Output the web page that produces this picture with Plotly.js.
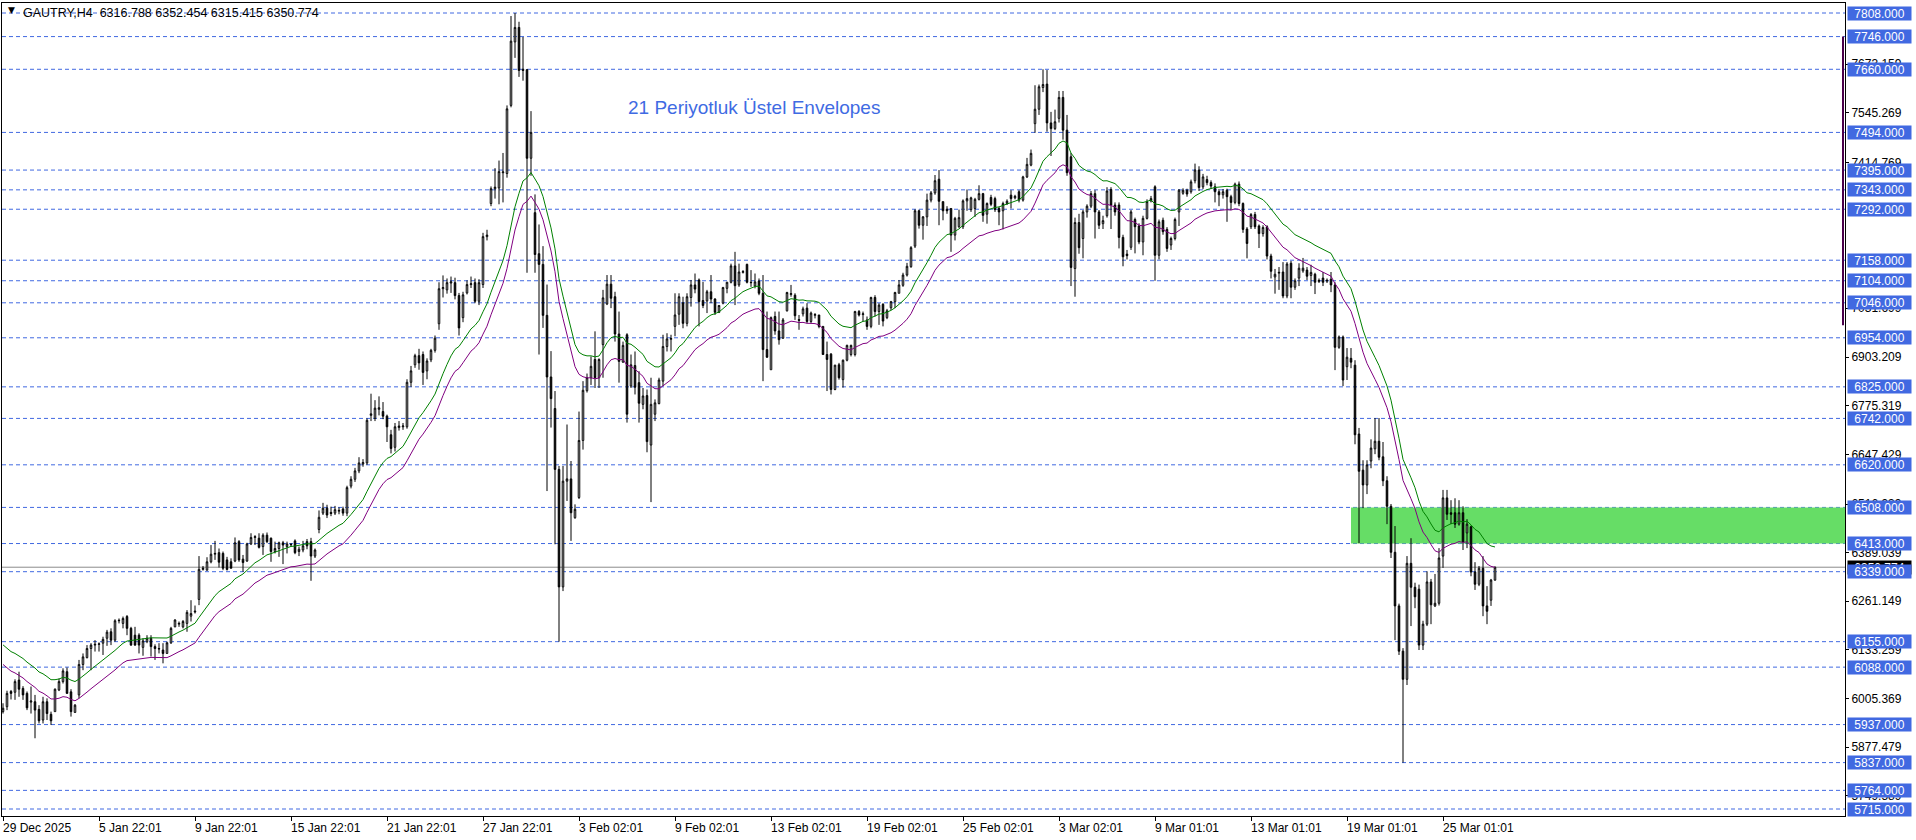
<!DOCTYPE html>
<html><head><meta charset="utf-8">
<script src="https://cdn.plot.ly/plotly-3.0.1.min.js"></script>
<style>html,body{margin:0;padding:0;background:#fff;}#chart{width:1916px;height:840px;}</style>
</head><body><div id="chart"></div>
<script>
const symbolName = 'GAUTRY,H4';
const openP = [
5971,5984,6024,6022,6054,6032,6019,5996,5997,5977,
5949,5997,5964,5971,6028,6050,6076,6023,5969,6015,
6095,6113,6137,6146,6148,6151,6164,6181,6159,6210,
6203,6221,6190,6172,6172,6140,6155,6164,6142,6137,
6133,6124,6152,6194,6201,6194,6203,6222,6233,6266,
6345,6343,6365,6385,6389,6387,6370,6365,6367,6418,
6372,6367,6412,6429,6427,6405,6435,6427,6392,6400,
6415,6405,6411,6420,6392,6396,6418,6418,6380,6450,
6493,6506,6495,6493,6498,6504,6493,6564,6582,6604,
6622,6625,6750,6742,6766,6760,6748,6699,6666,6718,
6720,6720,6837,6883,6907,6910,6867,6896,6921,6991,
7083,7080,7098,7099,7065,7007,7072,7094,7099,7050,
7094,7220,7307,7346,7348,7388,7386,7565,7732,7770,
7660,7659,7426,7283,7175,7147,7013,6851,6768,6608,
6299,6577,6583,6481,6534,6684,6815,6849,6897,6849,
6936,7043,7095,7062,6964,6890,6962,6827,6881,6836,
6779,6802,6672,6753,6781,6840,6931,6950,6984,7016,
7046,6992,7060,7093,7106,7052,7051,7075,7056,7021,
7045,7084,7100,7143,7093,7126,7147,7100,7090,7103,
7071,6923,6870,7010,6972,6953,7025,7068,7066,7002,
7017,7032,6997,7013,7014,6984,6910,6911,6818,6883,
6844,6895,6910,6910,7023,7015,7001,6984,7060,7023,
7042,7007,7033,7049,7071,7092,7119,7141,7195,7288,
7250,7272,7316,7335,7371,7312,7292,7294,7224,7246,
7246,7314,7291,7294,7318,7333,7279,7323,7320,7294,
7288,7307,7329,7322,7338,7316,7377,7408,7517,7555,
7612,7621,7519,7504,7531,7586,7500,7430,7136,7257,
7215,7285,7300,7333,7285,7254,7275,7344,7303,7303,
7218,7174,7192,7265,7248,7206,7268,7314,7351,7171,
7263,7239,7198,7215,7285,7334,7342,7338,7367,7395,
7351,7370,7362,7351,7338,7330,7342,7325,7310,7358,
7307,7240,7246,7278,7248,7228,7246,7169,7114,7124,
7127,7064,7150,7087,7111,7130,7132,7118,7121,7102,
7111,7103,7108,7093,6929,6956,6878,6900,6882,6701,
6606,6567,6630,6662,6682,6641,6578,6511,6390,6249,
6130,6056,6361,6298,6293,6146,6201,6312,6249,6256,
6380,6533,6494,6494,6464,6494,6441,6457,6338,6306,
6348,6249,6264,6316.788];
const highP = [
5993,6026,6028,6056,6076,6038,6024,6037,6015,5988,
6010,6006,5971,6032,6058,6085,6087,6030,5991,6107,
6124,6146,6151,6159,6153,6168,6186,6190,6214,6216,
6221,6225,6194,6194,6177,6164,6172,6172,6148,6151,
6151,6155,6194,6214,6208,6212,6238,6264,6250,6380,
6354,6377,6409,6420,6400,6392,6378,6374,6429,6422,
6383,6415,6440,6435,6440,6440,6442,6429,6418,6418,
6420,6418,6414,6424,6405,6420,6425,6428,6400,6500,
6520,6515,6510,6512,6508,6510,6565,6590,6612,6640,
6635,6742,6807,6790,6800,6785,6752,6712,6730,6735,
6730,6845,6880,6912,6925,6918,6900,6925,6960,7100,
7118,7110,7115,7112,7072,7075,7105,7115,7110,7108,
7230,7238,7352,7400,7420,7440,7565,7800,7808,7785,
7745,7660,7550,7331,7252,7195,7094,6919,6814,6617,
6617,6726,6630,6516,6760,6840,6860,6905,6971,6900,
7080,7119,7119,7075,7023,6944,6966,6910,6918,6866,
6822,6818,6849,6792,6849,6962,6966,6962,7071,7071,
7062,7071,7106,7123,7110,7101,7080,7119,7058,7040,
7088,7101,7149,7180,7149,7132,7149,7132,7123,7110,
7119,7023,7010,7023,7023,7006,7075,7093,7071,7014,
7036,7045,7023,7019,7014,6984,6944,6914,6883,6888,
6897,6936,6936,7025,7027,7023,7010,7062,7066,7045,
7045,7030,7051,7075,7106,7125,7151,7195,7292,7291,
7274,7333,7340,7382,7395,7312,7300,7294,7272,7291,
7318,7344,7325,7322,7355,7335,7310,7330,7325,7298,
7312,7318,7342,7330,7342,7380,7427,7449,7618,7620,
7660,7658,7548,7554,7603,7603,7540,7440,7270,7280,
7290,7305,7340,7342,7290,7275,7350,7350,7310,7310,
7225,7185,7290,7270,7255,7275,7318,7327,7355,7265,
7270,7245,7220,7270,7345,7347,7346,7370,7412,7405,
7385,7380,7368,7360,7345,7345,7346,7330,7362,7365,
7310,7245,7282,7285,7252,7250,7250,7175,7135,7140,
7153,7153,7156,7110,7150,7164,7140,7146,7125,7110,
7127,7110,7127,7100,6960,6960,6927,6927,6895,6717,
6632,6632,6687,6743,6743,6680,6590,6517,6459,6255,
6138,6380,6427,6310,6305,6210,6340,6320,6333,6401,
6554,6554,6527,6532,6527,6511,6477,6460,6364,6354,
6380,6301,6320,6352.454];
const lowP = [
5966,5975,6003,6002,6010,6002,5975,5966,5901,5940,
5940,5949,5936,5971,6025,6045,6019,5958,5968,6006,
6080,6111,6080,6129,6129,6120,6144,6146,6155,6203,
6190,6172,6144,6144,6124,6118,6151,6116,6107,6124,
6098,6124,6149,6193,6194,6190,6181,6208,6229,6251,
6342,6342,6361,6370,6350,6343,6342,6348,6364,6365,
6339,6365,6409,6409,6400,6383,6414,6365,6387,6378,
6359,6387,6405,6385,6380,6390,6398,6315,6375,6440,
6488,6480,6485,6488,6490,6486,6485,6558,6575,6598,
6615,6620,6735,6735,6750,6740,6680,6650,6655,6710,
6712,6715,6825,6875,6870,6830,6845,6890,6915,6975,
7060,7070,7072,7055,6960,6995,7068,7085,7045,7040,
7085,7210,7300,7320,7305,7310,7375,7560,7690,7640,
7630,7125,7380,7125,6910,6980,6551,6718,6411,6155,
6288,6525,6420,6478,6530,6660,6810,6830,6822,6822,
6849,7040,7032,6944,6836,6888,6731,6822,6805,6731,
6766,6653,6522,6735,6779,6827,6918,6918,6958,6988,
6979,6984,7036,7071,6984,7032,7019,7045,7014,7019,
7042,7071,7097,7040,7088,7123,7097,7088,7084,7066,
6840,6901,6870,6962,6936,6951,7023,7062,7001,6975,
7010,6992,6992,7005,6979,6910,6814,6805,6816,6844,
6823,6892,6905,6905,7010,6997,6975,6979,7010,6988,
6984,7003,7027,7032,7071,7088,7115,7138,7190,7241,
7212,7248,7310,7330,7250,7263,7280,7180,7210,7243,
7240,7288,7285,7272,7315,7259,7254,7300,7285,7250,
7239,7303,7294,7318,7310,7312,7374,7405,7493,7540,
7600,7496,7432,7500,7520,7475,7380,7090,7062,7175,
7163,7270,7295,7215,7240,7240,7270,7240,7275,7189,
7142,7160,7185,7176,7200,7171,7265,7310,7104,7160,
7225,7180,7185,7210,7248,7330,7325,7333,7360,7340,
7345,7355,7345,7310,7300,7320,7259,7290,7305,7300,
7230,7163,7240,7240,7190,7220,7160,7110,7070,7080,
7058,7058,7058,7080,7090,7125,7106,7090,7069,7098,
7090,7098,7074,6869,6925,6827,6843,6874,6674,6414,
6506,6543,6611,6648,6632,6564,6464,6375,6159,6120,
5837,6041,6196,6243,6133,6133,6196,6201,6246,6250,
6349,6475,6464,6454,6460,6396,6401,6327,6291,6301,
6222,6201,6249,6315.415];
const closeP = [
5980,6019,6019,6050,6030,6015,5981,5999,5975,5947,
5997,5966,5947,6030,6050,6078,6019,5971,5988,6095,
6115,6137,6146,6148,6149,6161,6180,6159,6210,6211,
6216,6190,6146,6146,6146,6157,6164,6142,6137,6136,
6124,6152,6190,6212,6203,6208,6232,6229,6235,6345,
6348,6365,6385,6387,6364,6348,6345,6348,6415,6370,
6363,6412,6429,6431,6403,6435,6418,6392,6400,6415,
6409,6412,6410,6389,6398,6407,6407,6380,6396,6482,
6506,6488,6492,6502,6500,6493,6560,6582,6604,6625,
6626,6737,6754,6769,6770,6748,6720,6663,6720,6722,
6722,6837,6867,6907,6888,6863,6893,6921,6953,7083,
7086,7099,7101,7065,6980,7067,7094,7096,7050,7099,
7220,7224,7346,7350,7391,7390,7556,7734,7770,7657,
7657,7426,7494,7173,7147,7013,6851,6794,6608,6299,
6577,6583,6494,6503,6684,6816,6849,6879,6849,6897,
7059,7095,7058,6964,6892,6934,6753,6883,6824,6782,
6801,6681,6779,6783,6843,6931,6951,6952,7014,7062,
6992,7062,7093,7082,7049,7039,7075,7056,7021,7039,
7086,7100,7143,7091,7127,7128,7100,7099,7101,7071,
6923,6903,7007,6972,6949,7001,7073,7070,7012,7000,
7030,6997,7019,7015,6984,6910,6897,6818,6882,6849,
6895,6934,6934,7023,7014,7017,6984,7060,7023,7040,
6998,7025,7049,7073,7093,7119,7142,7191,7288,7250,
7272,7316,7335,7367,7313,7288,7288,7224,7268,7270,
7314,7320,7322,7318,7333,7276,7307,7305,7291,7285,
7307,7313,7320,7326,7316,7377,7410,7439,7555,7614,
7620,7519,7504,7522,7586,7500,7388,7139,7257,7191,
7285,7300,7333,7285,7250,7262,7340,7303,7285,7218,
7167,7170,7285,7246,7206,7268,7312,7320,7171,7259,
7233,7189,7215,7265,7342,7342,7332,7364,7395,7349,
7377,7362,7353,7338,7330,7338,7325,7310,7358,7307,
7239,7202,7278,7246,7228,7244,7169,7129,7121,7126,
7064,7148,7087,7104,7137,7137,7116,7126,7100,7105,
7100,7105,7093,6929,6956,6843,6903,6890,6699,6603,
6567,6620,6664,6682,6640,6578,6511,6390,6249,6130,
6056,6361,6298,6273,6146,6201,6312,6252,6256,6375,
6533,6490,6490,6464,6494,6417,6464,6338,6306,6348,
6249,6235,6317,6350.774];

const dateLabels = ['29 Dec 2025','5 Jan 22:01','9 Jan 22:01','15 Jan 22:01','21 Jan 22:01','27 Jan 22:01','3 Feb 02:01','9 Feb 02:01','13 Feb 02:01','19 Feb 02:01','25 Feb 02:01','3 Mar 02:01','9 Mar 01:01','13 Mar 01:01','19 Mar 01:01','25 Mar 01:01'];
const dateLabelBars = [0,24,48,72,96,120,144,168,192,216,240,264,288,312,336,360];
const levelLines = [7808,7746,7660,7494,7395,7343,7292,7158,7104,7046,6954,6825,6742,6620,6508,6413,6339,6155,6088,5937,5837,5764,5715];
const priceTicks = [7673.159,7545.269,7414.769,7031.699,6903.209,6775.319,6647.429,6516.939,6389.039,6261.149,6133.259,6005.369,5877.479,5749.589];
const bidPrice = 6350.774;
const zoneLow = 6413, zoneHigh = 6508, zoneStartBar = 337;
const emaPeriod = 21, envDeviationPct = 0.42, emaSeed = 6135;
const noteText = '21 Periyotluk Üstel Envelopes';
const markerTop = 7746, markerBottom = 6987;

const bars = closeP.map((_, i) => i);
const alpha = 2 / (emaPeriod + 1);
let ema = emaSeed;
const envUpper = [], envLower = [];
closeP.forEach(c => {
  ema = ema + alpha * (c - ema);
  envUpper.push(ema * (1 + envDeviationPct / 100));
  envLower.push(ema * (1 - envDeviationPct / 100));
});

const FONT = 'Liberation Sans, Arial, sans-serif';
const XMAX = 460.5;

const traces = [
  {type:'candlestick', x:bars, open:openP, high:highP, low:lowP, close:closeP,
   increasing:{line:{color:'#000000', width:1}, fillcolor:'#ffffff'},
   decreasing:{line:{color:'#000000', width:1}, fillcolor:'#000000'},
   whiskerwidth:0, hoverinfo:'skip', showlegend:false},
  {type:'scatter', mode:'lines', x:bars, y:envUpper, line:{color:'#008000', width:1}, hoverinfo:'skip', showlegend:false},
  {type:'scatter', mode:'lines', x:bars, y:envLower, line:{color:'#800080', width:1}, hoverinfo:'skip', showlegend:false}
];

const shapes = [];
shapes.push({type:'rect', xref:'x', yref:'y', x0:zoneStartBar, x1:XMAX, y0:zoneLow, y1:zoneHigh,
  fillcolor:'#66dd66', line:{width:0}, layer:'below'});
levelLines.forEach(v => shapes.push({type:'line', xref:'paper', yref:'y', x0:0, x1:1, y0:v, y1:v,
  line:{color:'#4169e1', width:1, dash:'4px,3px'}, layer:'below'}));
shapes.push({type:'line', xref:'paper', yref:'y', x0:0, x1:1, y0:bidPrice, y1:bidPrice,
  line:{color:'#8c8c8c', width:1}, layer:'below'});
shapes.push({type:'line', xref:'x', yref:'y', x0:460.0, x1:460.0, y0:markerTop, y1:markerBottom,
  line:{color:'#4a004a', width:2}, layer:'above'});

const annotations = [];
const last = closeP.length - 1;
annotations.push({xref:'paper', yref:'paper', x:0, y:1, xanchor:'left', yanchor:'middle', xshift:4, yshift:-7,
  text:'▼', showarrow:false, font:{family:'DejaVu Sans', size:9, color:'#000'}});
annotations.push({xref:'paper', yref:'paper', x:0, y:1, xanchor:'left', yanchor:'middle', xshift:19, yshift:-10,
  text: symbolName + '  ' + [openP[last], highP[last], lowP[last], closeP[last]].map(v => v.toFixed(3)).join(' '),
  showarrow:false, font:{family:FONT, size:12.5, color:'#000'}});
annotations.push({xref:'paper', yref:'paper', x:752/1843, y:1, xanchor:'center', yanchor:'middle', yshift:-104,
  text: noteText, showarrow:false, font:{family:FONT, size:19, color:'#3f6be3'}});
dateLabelBars.forEach((b, k) => annotations.push({xref:'x', yref:'paper', x:b, y:0, xanchor:'left', yanchor:'middle',
  xshift:-2, yshift:-12, text:dateLabels[k], showarrow:false, font:{family:FONT, size:12, color:'#000'}}));
annotations.push({xref:'paper', yref:'y', x:1, y:bidPrice, xanchor:'left', yanchor:'middle', xshift:2,
  text:bidPrice.toFixed(3), showarrow:false, bgcolor:'#000000', width:61, height:11, borderpad:1,
  font:{family:FONT, size:12, color:'#ffffff'}});
levelLines.forEach(v => annotations.push({xref:'paper', yref:'y', x:1, y:v, xanchor:'left', yanchor:'middle', xshift:2,
  text:v.toFixed(3), showarrow:false, bgcolor:'#4169e1', width:61, height:11, borderpad:1,
  font:{family:FONT, size:12, color:'#ffffff'}}));

const layout = {
  width:1916, height:840,
  margin:{l:2, r:71, t:3, b:24},
  paper_bgcolor:'#ffffff', plot_bgcolor:'#ffffff',
  showlegend:false, boxgap:0.45,
  xaxis:{range:[-0.25, XMAX], showgrid:false, zeroline:false, showline:true, mirror:true,
    linecolor:'#000', linewidth:1, ticks:'outside', ticklen:4, tickcolor:'#000', tickwidth:1,
    tickvals:dateLabelBars, showticklabels:false, rangeslider:{visible:false}, fixedrange:true},
  yaxis:{range:[5696.6, 7834.3], side:'right', showgrid:false, zeroline:false, showline:true, mirror:true,
    linecolor:'#000', linewidth:1, ticks:'outside', ticklen:3, tickcolor:'#000',
    tickvals:priceTicks, ticktext:priceTicks.map(v => v.toFixed(3)),
    tickfont:{family:FONT, size:12, color:'#000'}, automargin:false, fixedrange:true},
  shapes:shapes, annotations:annotations
};

Plotly.newPlot('chart', traces, layout, {staticPlot:true, displayModeBar:false});
</script>
</body></html>
